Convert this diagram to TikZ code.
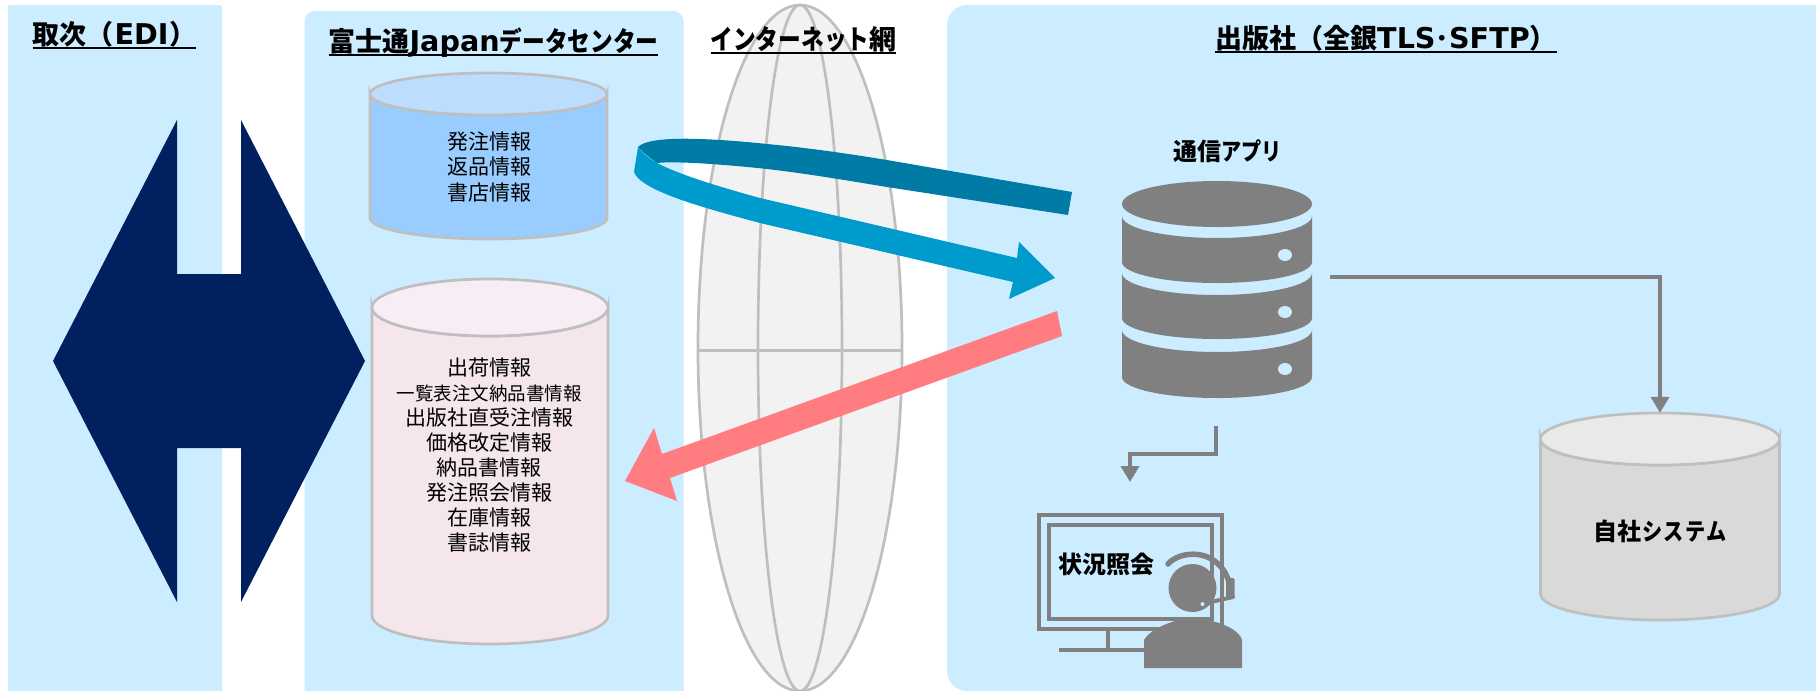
\documentclass[tikz,border=0pt]{standalone}
\usepackage{fontspec}
\setmainfont{Noto Sans CJK JP}
\newfontfamily\kna[FakeStretch=0.84]{Noto Sans CJK JP}
\newfontfamily\latn[Scale=1.06]{DejaVu Sans}
\usetikzlibrary{shapes.geometric}
\usetikzlibrary{arrows.meta}
\definecolor{panelblue}{HTML}{CCECFF}
\definecolor{linegray}{HTML}{BFBFBF}
\definecolor{fillgray}{HTML}{808080}
\definecolor{navyfill}{HTML}{002060}
\definecolor{ribbondark}{HTML}{007BA5}
\definecolor{ribbonlight}{HTML}{009BCD}
\definecolor{returnred}{HTML}{FF7C80}
\definecolor{orderbody}{HTML}{99CCFF}
\definecolor{orderend}{HTML}{BDDDFF}
\definecolor{shipbody}{HTML}{F5E6EB}
\definecolor{shipend}{HTML}{F8EDF4}
\definecolor{sysbody}{HTML}{D9D9D9}
\definecolor{sysend}{HTML}{E9E9E9}
\tikzset{
	panel/.style = {rectangle, fill=panelblue, inner sep=0pt},
	headtxt/.style = {anchor=south, inner sep=0pt, font=\fontsize{27}{30}\selectfont\bfseries},
	infotxt/.style = {align=center, inner sep=0pt, font=\fontsize{21}{25.1}\selectfont},
	boldtxt/.style = {inner sep=0pt, font=\fontsize{24}{28}\selectfont\bfseries},
	dbline/.style = {draw=linegray, line width=2.7pt},% same line for cylinders and globe
	flowline/.style = {draw=fillgray, line width=4pt, -{Triangle[length=16pt,width=18pt]}},
	scrnline/.style = {draw=fillgray, line width=4pt}
}
\newsavebox{\headbox}
\newcommand{\headul}[1]{\sbox{\headbox}{#1}\smash{\usebox{\headbox}}\llap{\rule[-4.8pt]{\wd\headbox}{1.6pt}}}
% name, centre x, top y, bottom y, x radius, y radius, body colour, end colour
\newcommand{\dbshape}[8]{
	\node[inner sep=0pt, minimum width={2*#5}, minimum height={#4-#3}] (#1) at ({#2},{(#3+#4)/2}) {};
	\draw[dbline, fill=#7] ({#2-#5},{#3+#6}) arc [start angle=180, end angle=360, x radius=#5pt, y radius=#6pt]
		-- ({#2+#5},{#4-#6}) arc [start angle=0, end angle=-180, x radius=#5pt, y radius=#6pt] -- cycle;
	\draw[dbline, fill=#8] ({#2},{#3+#6}) ellipse [x radius=#5pt, y radius=#6pt];
}
\begin{document}
\begin{tikzpicture}[x=1pt,y=-1pt]
	\useasboundingbox (0,0) rectangle (1816,691);
	% panels
	\node[panel, rounded corners=2pt, minimum width=214pt, minimum height=700pt] (edipanel) at (115,355) {};
	\node[panel, rounded corners=10pt, minimum width=379pt, minimum height=712pt] (dcpanel) at (494,367) {};
	\node[panel, rounded corners=20pt, minimum width=900pt, minimum height=686pt] (pubpanel) at (1397,348) {};
	% globe
	\node[ellipse, dbline, fill=black!5, minimum width=204pt, minimum height=686pt, inner sep=0pt] (globe) at (800,348) {};
	\node[ellipse, dbline, minimum width=84pt, minimum height=686pt, inner sep=0pt] (meridian) at (800,348) {};
	\draw[dbline, line width=3.3pt] ([yshift=-2.7pt]globe.west) -- ([yshift=-2.7pt]globe.east);
	% titles
	\node[headtxt] (editxt) at (114.5,49) {\headul{取次（\kern1pt{\latn EDI}\kern1pt）}};
	\node[headtxt] (dctxt) at (493.5,56) {\headul{富士通{\latn Japan}{\kna データセンター}}};
	\node[headtxt] (nettxt) at (803.5,54) {\headul{{\kna インターネット}網}};
	\node[headtxt] (pubtxt) at (1386,53) {\headul{出版社（全銀{\latn TLS}･{\latn SFTP}）}};
	% double arrow
	\fill[navyfill] (53,361) -- (177,120) -- (177,274) -- (241,274) -- (241,120) -- (365,361)
		-- (241,602) -- (241,448) -- (177,448) -- (177,602) -- cycle;
	% databases
	\dbshape{orderdb}{488.5}{73}{239}{118.5}{21}{orderbody}{orderend}
	\dbshape{shipdb}{490}{279}{644}{118}{28.5}{shipbody}{shipend}
	\dbshape{sysdb}{1660}{413}{620}{119.5}{26}{sysbody}{sysend}
	\node[infotxt] (ordertxt) at (489,167) {発注情報\\返品情報\\書店情報};
	\node[infotxt] (shiptxt) at (489,455) {出荷情報\\{\fontsize{18.5}{25.1}\selectfont 一覧表注文納品書情報}\\出版社直受注情報\\価格改定情報\\納品書情報\\発注照会情報\\在庫情報\\書誌情報};
	\node[boldtxt] (systxt) at (1660,531) {自社{\kna\kern1pt シ\kern1pt ス\kern1pt テ\kern1pt ム}};
	% ribbon arrow
	\fill[ribbondark] (638,147) .. controls (648,136) and (700,137) .. (767,144) .. controls (810,148) and (850,154) .. (887,160)
		-- (1072,192) -- (1068,215) -- (887,187) .. controls (850,181) and (810,174) .. (767,169)
		.. controls (720,164) and (675,161) .. (657,163) .. controls (650,158) and (642,152) .. (638,147) -- cycle;
	\fill[ribbonlight] (638,147) .. controls (642,153) and (650,159) .. (657,163) .. controls (680,175) and (720,187) .. (760,198)
		-- (1017,258) -- (1019,242) -- (1055,278) -- (1009,299) -- (1013,282) -- (760,223)
		.. controls (700,207) and (640,190) .. (634,172) -- cycle;
	% return arrow
	\fill[returnred] (1057,311) -- (662,454) -- (654,428) -- (625,481) -- (677,501) -- (670,478) -- (1062,336) -- cycle;
	% server
	\node[boldtxt] (apptxt) at (1227.5,151) {通信{\kna アプリ}};
	\fill[fillgray] (1217,204) ellipse [x radius=95pt, y radius=23pt];
	\foreach \ytop/\ybot in {216/262, 273/318, 330/377}
		\fill[fillgray] (1122,\ytop) arc [start angle=180, end angle=360, x radius=95pt, y radius=22pt]
			-- (1312,\ybot) arc [start angle=0, end angle=-180, x radius=95pt, y radius=21pt] -- cycle;
	\foreach \ydot in {255, 312, 369}
		\fill[panelblue] (1285,\ydot) ellipse [x radius=7pt, y radius=6pt];
	% connectors
	\coordinate (srvout) at (1330,277);
	\coordinate (srvdown) at (1216,426);
	\coordinate (monin) at (1130,482);
	\draw[flowline] (srvout) -| (sysdb.north);
	\draw[flowline] (srvdown) -- ++(0,28) -| (monin);
	% monitor and operator
	\draw[scrnline] (1039,515) rectangle (1222,629);
	\draw[scrnline] (1049,525) rectangle (1212,619);
	\draw[scrnline] (1108,631) -- (1108,650);
	\draw[scrnline] (1059,650) -- (1150,650);
	\node[boldtxt] (monitortxt) at (1106,564) {状況照会};
	\fill[fillgray] (1192.5,588) circle (24pt);
	\fill[fillgray] (1144,668) -- (1144,640) .. controls (1150,630) and (1165,624) .. (1175,621) -- (1212,621)
		.. controls (1228,625) and (1240,632) .. (1242,640) -- (1242,668) -- cycle;
	\draw[fillgray, line width=5.5pt, line cap=round] (1168,564) .. controls (1180,550) and (1218,547) .. (1229,582);
	\fill[fillgray, rounded corners=1.5pt] (1226,578) rectangle (1234.5,598);
	\draw[fillgray, line width=4pt, line cap=round] (1202,604) -- (1233,597);
	\fill[fillgray] (1202.5,604) circle (4.7pt);
	\fill[panelblue] (1202.5,604) circle (2pt);
\end{tikzpicture}
\end{document}
